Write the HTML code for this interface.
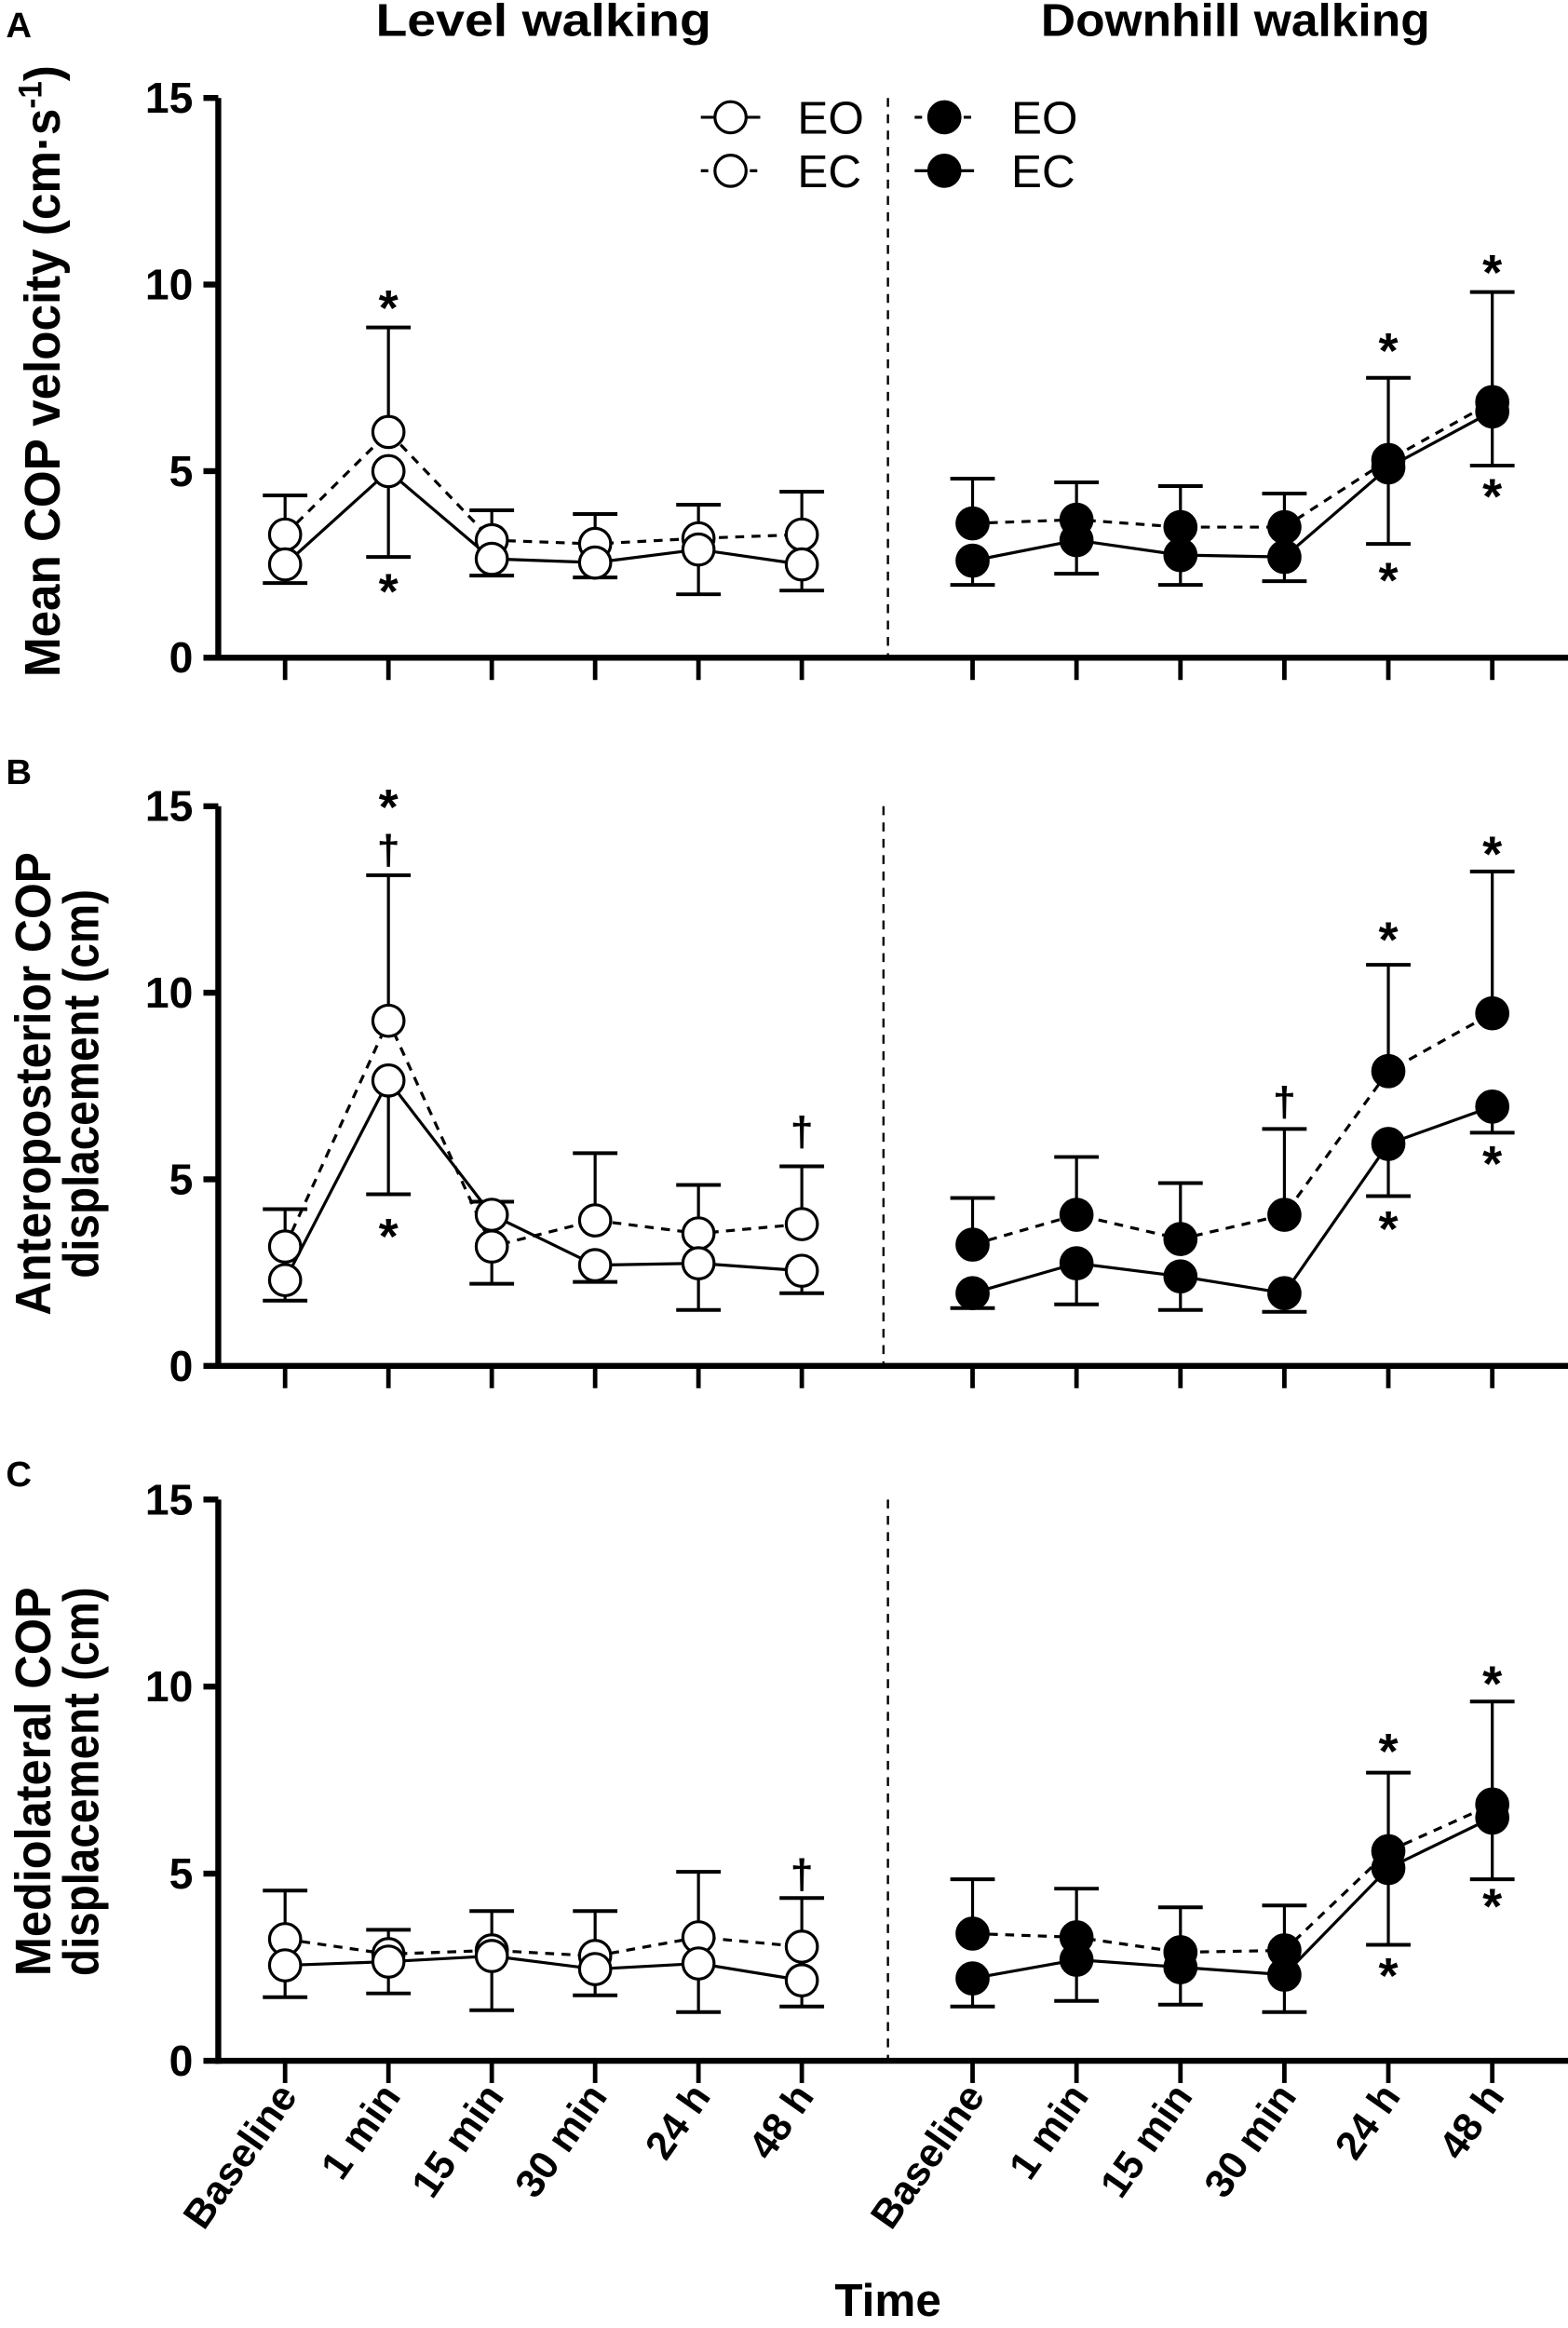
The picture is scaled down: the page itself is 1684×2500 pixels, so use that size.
<!DOCTYPE html>
<html><head><meta charset="utf-8"><style>
html,body{margin:0;padding:0;background:#fff}
svg{display:block}
text{font-family:"Liberation Sans",Arial,sans-serif}
</style></head><body>
<svg id="fig" width="1684" height="2500" viewBox="0 0 1056 1568" preserveAspectRatio="none" xmlns="http://www.w3.org/2000/svg">
<g id="root"></g>
</svg>
<script>
const categories = ["Baseline","1 min","15 min","30 min","24 h","48 h"];
const yTicks = [0,5,10,15];
// Panel A: mean COP velocity
const aLevelEO = [2.5,5.0,2.65,2.55,2.9,2.5];
const aLevelEC = [3.3,6.05,3.15,3.05,3.2,3.3];
const aLevelUp = [4.35,8.85,3.95,3.85,4.1,4.45];
const aLevelDown = [2.0,2.7,2.2,2.15,1.7,1.8];
const aDownEO = [3.6,3.7,3.5,3.5,5.3,6.85];
const aDownEC = [2.6,3.15,2.75,2.7,5.1,6.6];
const aDownUp = [4.8,4.7,4.6,4.4,7.5,9.8];
const aDownDown = [1.95,2.25,1.95,2.05,3.05,5.15];
// Panel B: AP displacement
const bLevelEO = [2.3,7.65,4.05,2.7,2.75,2.55];
const bLevelEC = [3.2,9.25,3.2,3.9,3.55,3.8];
const bLevelUp = [4.2,13.15,4.4,5.7,4.85,5.35];
const bLevelDown = [1.75,4.6,2.2,2.25,1.5,1.95];
const bDownEO = [3.25,4.05,3.4,4.05,7.9,9.45];
const bDownEC = [1.95,2.75,2.4,1.95,5.95,6.95];
const bDownUp = [4.5,5.6,4.9,6.35,10.75,13.25];
const bDownDown = [1.55,1.65,1.5,1.45,4.55,6.25];
// Panel C: ML displacement
const cLevelEO = [2.55,2.65,2.8,2.45,2.6,2.15];
const cLevelEC = [3.25,2.85,2.95,2.8,3.3,3.05];
const cLevelUp = [4.55,3.5,4.0,4.0,5.05,4.35];
const cLevelDown = [1.7,1.8,1.35,1.75,1.3,1.45];
const cDownEO = [3.4,3.3,2.9,2.95,5.6,6.85];
const cDownEC = [2.2,2.7,2.5,2.3,5.15,6.5];
const cDownUp = [4.85,4.6,4.1,4.15,7.7,9.6];
const cDownDown = [1.45,1.6,1.5,1.3,3.1,4.85];

const NS="http://www.w3.org/2000/svg";
const root=document.getElementById('root');
function el(tag,attrs,parent,txt){const e=document.createElementNS(NS,tag);for(const k in attrs)e.setAttribute(k,attrs[k]);if(txt!==undefined)e.textContent=txt;(parent||root).appendChild(e);return e;}
function xLeft(i){return 192+i*69.6;}
function xRight(i){return 655+i*70;}

const panels=[
 {id:'a',top:66,bot:443,div:598,lv:[aLevelEO,aLevelEC,aLevelUp,aLevelDown],dh:[aDownEO,aDownEC,aDownUp,aDownDown],
  ann:[['L',1,'*',9.55],['L',1,'*',1.95],['R',4,'*',8.4],['R',4,'*',2.25],['R',5,'*',10.5],['R',5,'*',4.5]]},
 {id:'b',top:543,bot:920,div:595,lv:[bLevelEO,bLevelEC,bLevelUp,bLevelDown],dh:[bDownEO,bDownEC,bDownUp,bDownDown],
  ann:[['L',1,'*',15.15],['L',1,'†',13.85],['L',1,'*',3.65],['L',5,'†',6.3],['R',3,'†',7.1],['R',4,'*',11.6],['R',4,'*',3.85],['R',5,'*',13.9],['R',5,'*',5.6]]},
 {id:'c',top:1010,bot:1388,div:598,lv:[cLevelEO,cLevelEC,cLevelUp,cLevelDown],dh:[cDownEO,cDownEC,cDownUp,cDownDown],
  ann:[['L',5,'†',5.0],['R',4,'*',8.45],['R',4,'*',2.45],['R',5,'*',10.25],['R',5,'*',4.3]]}
];

panels.forEach(p=>{
  const g=el('g',{});
  
  
  const y=v=>p.bot-(v/15)*(p.bot-p.top);
  const ya=el('line',{x1:147,y1:p.top,x2:147,y2:p.bot+2,stroke:'#000','stroke-width':4},g);
  
  
  const xa=el('line',{x1:145,y1:p.bot,x2:1056,y2:p.bot,stroke:'#000','stroke-width':4},g);
  
  
  yTicks.forEach(t=>{
    el('line',{x1:137,y1:y(t),x2:147,y2:y(t),stroke:'#000','stroke-width':4},g);
    const tl=el('text',{x:130,y:y(t)+10,'text-anchor':'end','font-size':29,'font-weight':'bold'},g,String(t));
    
    
  });
  for(let i=0;i<6;i++){
    el('line',{x1:xLeft(i),y1:p.bot,x2:xLeft(i),y2:p.bot+15,stroke:'#000','stroke-width':3},g);
    el('line',{x1:xRight(i),y1:p.bot,x2:xRight(i),y2:p.bot+15,stroke:'#000','stroke-width':3},g);
  }
  const dv=el('line',{x1:p.div,y1:p.top,x2:p.div,y2:p.bot,stroke:'#000','stroke-width':1.5,'stroke-dasharray':'6,5'},g);
  
  
  function series(xf,solid,dashed,up,down,fill,side){
    const ptsS=solid.map((v,i)=>xf(i)+','+y(v)).join(' ');
    const ptsD=dashed.map((v,i)=>xf(i)+','+y(v)).join(' ');
    const l1=el('polyline',{points:ptsS,fill:'none',stroke:'#000','stroke-width':2},g);
    
    
    const l2=el('polyline',{points:ptsD,fill:'none',stroke:'#000','stroke-width':2,'stroke-dasharray':'6,5'},g);
    
    
    for(let i=0;i<6;i++){
      const hi=Math.max(solid[i],dashed[i]),lo=Math.min(solid[i],dashed[i]);
      const x=xf(i);
      el('line',{x1:x,y1:y(hi),x2:x,y2:y(up[i]),stroke:'#000','stroke-width':2},g);
      el('line',{x1:x-15,y1:y(up[i]),x2:x+15,y2:y(up[i]),stroke:'#000','stroke-width':2.5},g);
      el('line',{x1:x,y1:y(lo),x2:x,y2:y(down[i]),stroke:'#000','stroke-width':2},g);
      el('line',{x1:x-15,y1:y(down[i]),x2:x+15,y2:y(down[i]),stroke:'#000','stroke-width':2.5},g);
    }
    for(let i=0;i<6;i++){
      const c1=el('circle',{cx:xf(i),cy:y(dashed[i]),r:10.5,fill:fill,stroke:'#000','stroke-width':2},g);
      
      
      const c2=el('circle',{cx:xf(i),cy:y(solid[i]),r:10.5,fill:fill,stroke:'#000','stroke-width':2},g);
      
      
    }
  }
  series(xLeft,p.lv[0],p.lv[1],p.lv[2],p.lv[3],'#fff','level');
  series(xRight,p.dh[1],p.dh[0],p.dh[2],p.dh[3],'#000','downhill');
  p.ann.forEach(a=>{
    const x=a[0]==='L'?xLeft(a[1]):xRight(a[1]);
    const t=el('text',{x:x,y:y(a[3])+(a[2]==='*'?16:10),'text-anchor':'middle','font-size':a[2]==='*'?34:28,'font-weight':'bold'},g,a[2]);
    
    
  });
});

categories.forEach((c,i)=>{
  [xLeft(i),xRight(i)].forEach(x=>{
    const t=el('text',{x:0,y:0,'text-anchor':'end','font-size':27,'font-weight':'bold',transform:'translate('+(x+9)+',1412) rotate(-55)'},root,c);
    
    
  });
});
</script>
<script>
(function(){
const NS="http://www.w3.org/2000/svg";
const root=document.getElementById('root');
function T(txt,attrs,name){const e=document.createElementNS(NS,'text');for(const k in attrs)e.setAttribute(k,attrs[k]);e.textContent=txt;


root.appendChild(e);return e;}
T('A',{x:4,y:25,'font-size':24,'font-weight':'bold'},'panel-label-a');
T('B',{x:4,y:528,'font-size':24,'font-weight':'bold'},'panel-label-b');
T('C',{x:4,y:1001,'font-size':24,'font-weight':'bold'},'panel-label-c');
T('Level walking',{x:366,y:24,'text-anchor':'middle','font-size':31,'font-weight':'bold','font-family':'"Liberation Sans Narrow","Liberation Sans",sans-serif',textLength:226,lengthAdjust:'spacingAndGlyphs'},'title-level-walking');
T('Downhill walking',{x:832,y:24,'text-anchor':'middle','font-size':31,'font-weight':'bold','font-family':'"Liberation Sans Narrow","Liberation Sans",sans-serif',textLength:262,lengthAdjust:'spacingAndGlyphs'},'title-downhill-walking');
T('Time',{x:598,y:1560,'text-anchor':'middle','font-size':31,'font-weight':'bold','font-family':'"Liberation Sans Narrow","Liberation Sans",sans-serif'},'x-axis-title');
const nf='"Liberation Sans Narrow","Liberation Sans",sans-serif';
const ya=T('',{'text-anchor':'middle','font-size':34,'font-weight':'bold','font-family':nf,transform:'translate(40,250) rotate(-90)',textLength:412,lengthAdjust:'spacingAndGlyphs'},'y-axis-title-a');
ya.textContent='Mean COP velocity (cm·s';
const sup=document.createElementNS(NS,'tspan');sup.setAttribute('dy','-12');sup.setAttribute('font-size','22');sup.textContent='-1';ya.appendChild(sup);
const cl=document.createElementNS(NS,'tspan');cl.setAttribute('dy','12');cl.textContent=')';ya.appendChild(cl);
T('Anteroposterior COP',{'text-anchor':'middle','font-size':34,'font-weight':'bold','font-family':nf,transform:'translate(34,730) rotate(-90)',textLength:312,lengthAdjust:'spacingAndGlyphs'},'y-axis-title-b-line1');
T('displacement (cm)',{'text-anchor':'middle','font-size':34,'font-weight':'bold','font-family':nf,transform:'translate(66,730) rotate(-90)',textLength:262,lengthAdjust:'spacingAndGlyphs'},'y-axis-title-b-line2');
T('Mediolateral COP',{'text-anchor':'middle','font-size':34,'font-weight':'bold','font-family':nf,transform:'translate(34,1200) rotate(-90)',textLength:262,lengthAdjust:'spacingAndGlyphs'},'y-axis-title-c-line1');
T('displacement (cm)',{'text-anchor':'middle','font-size':34,'font-weight':'bold','font-family':nf,transform:'translate(66,1200) rotate(-90)',textLength:262,lengthAdjust:'spacingAndGlyphs'},'y-axis-title-c-line2');
function L(cx,cy,fill,dash,label,name){
  const g=document.createElementNS(NS,'g');
  
  
  const ln=document.createElementNS(NS,'line');
  ln.setAttribute('x1',cx-20);ln.setAttribute('x2',cx+20);ln.setAttribute('y1',cy);ln.setAttribute('y2',cy);ln.setAttribute('stroke','#000');ln.setAttribute('stroke-width','2');
  if(dash)ln.setAttribute('stroke-dasharray','5,6');
  g.appendChild(ln);
  const c=document.createElementNS(NS,'circle');
  c.setAttribute('cx',cx);c.setAttribute('cy',cy);c.setAttribute('r',10.5);c.setAttribute('fill',fill);c.setAttribute('stroke','#000');c.setAttribute('stroke-width','2');
  g.appendChild(c);
  const t=document.createElementNS(NS,'text');
  t.setAttribute('x',cx+45);t.setAttribute('y',cy+11);t.setAttribute('font-size','31');t.textContent=label;
  g.appendChild(t);
  root.appendChild(g);
}
L(492,79,'#fff',false,'EO','legend-level-eo');
L(492,115,'#fff',true,'EC','legend-level-ec');
L(636,79,'#000',true,'EO','legend-downhill-eo');
L(636,115,'#000',false,'EC','legend-downhill-ec');
})();
</script>
</body></html>
